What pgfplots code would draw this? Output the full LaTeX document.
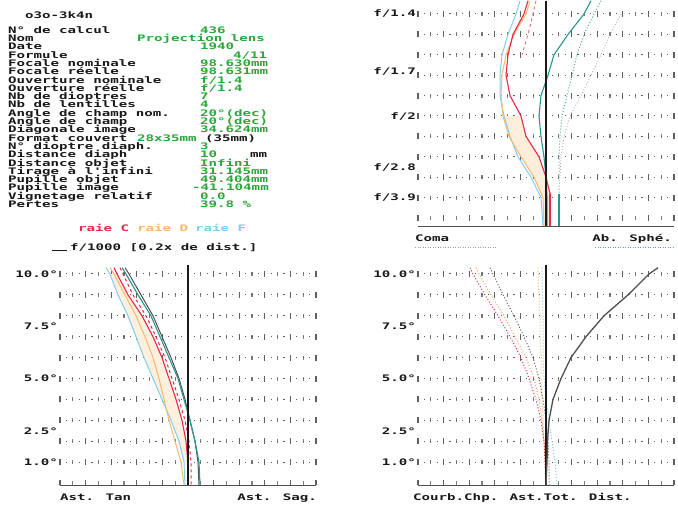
\documentclass[border=0pt]{standalone}
\usepackage{fontspec}
\usepackage{pgfplots}
\pgfplotsset{compat=1.18}
\newfontfamily\pix[FakeStretch=1.57]{DejaVu Sans Mono}
\newcommand\pixf{\pix\bfseries\fontsize{9}{9}\selectfont}
\definecolor{tblack}{RGB}{25,25,25}
\definecolor{gval}{RGB}{45,165,60}
\definecolor{cC}{RGB}{232,40,70}
\definecolor{cD}{RGB}{248,185,110}
\definecolor{cF}{RGB}{130,205,235}
\definecolor{cT}{RGB}{40,150,140}
\definecolor{cG}{RGB}{80,80,80}
\definecolor{gridc}{RGB}{95,95,95}

\pgfplotsset{
 panel/.style={anchor=origin, scale only axis, width=256pt, xmin=-128, xmax=128,
  axis line style={draw=none}, major tick length=0pt, minor tick length=0pt,
  xtick={-128,-102.4,-76.8,-51.2,-25.6,0,25.6,51.2,76.8,102.4,128},
  minor xtick={-115.2,-89.6,-64,-38.4,-12.8,12.8,38.4,64,89.6,115.2},
  xticklabels={}, yticklabels={}, grid=both, clip=false,
  yticklabel style={font=\pixf, text=tblack, anchor=east, inner sep=0pt, xshift=-2pt},
  major y grid style={draw=gridc, line width=1pt, dash pattern=on 1.2pt off 5.2pt, dash phase=0.6pt},
  extra y tick style={grid=none},
 },
 bplot/.style={panel, height=223.63pt, ymin=-0.1, ymax=10.6, ytick={1,2,3,4,5,6,7,8,9,10},
  major x grid style={draw=gridc, line width=1.3pt, dash pattern=on 6pt off 14.9pt, dash phase=0.91pt},
  minor x grid style={draw=gridc!80, line width=1.1pt, dash pattern=on 4pt off 16.9pt, dash phase=20.81pt},
  extra y ticks={1,2.5,5,7.5,10}, extra y tick labels={1.0°,2.5°,5.0°,7.5°,10.0°}},
 tplot/.style={panel, height=225.42pt, ymin=-0.04, ymax=1.065, ytick={0.1,0.2,0.3,0.4,0.5,0.6,0.7,0.8,0.9,1.0},
  major x grid style={draw=gridc, line width=1.3pt, dash pattern=on 6pt off 14.4pt, dash phase=15.24pt},
  minor x grid style={draw=gridc!80, line width=1.1pt, dash pattern=on 4pt off 16.4pt, dash phase=14.24pt},
  extra y ticks={1.0,0.72,0.5,0.25,0.1}, extra y tick labels={f/1.4,f/1.7,f/2,f/2.8,f/3.9}},
}
\tikzset{tx/.style={anchor=base west, inner sep=0pt, font=\pixf, text=tblack}}
\newcommand{\rowtxt}[4]{%
 \node[tx] at (8,{470.7-8.3*#1}) {#2};
 \node[tx,text=gval] at (#3,{470.7-8.3*#1}) {#4};}

\begin{document}
\begin{tikzpicture}[x=1pt,y=1pt]
\useasboundingbox (0,0) rectangle (678,504);
\fill[white] (0,0) rectangle (678,504);

% ---------- top-right : coma / spherical aberration ----------
\begin{axis}[tplot, at={(546pt,286pt)}]
\addplot[fill=cD!25, draw=none] coordinates {(-43,0.5)(-37,0.4)(-25,0.3)(-12,0.2)(-3,0.1)(-2,-0.04)(4,-0.04)(4,0.12)(0,0.2)(-7,0.3)(-20,0.4)(-25,0.5)} -- cycle;
\addplot[cF, line width=1pt] coordinates {(-26,1.065)(-30,1.0)(-38,0.9)(-44,0.8)(-46,0.7)(-46,0.6)(-42,0.5)(-36,0.4)(-28,0.3)(-15,0.2)(-5,0.1)(-3,-0.04)};
\addplot[cD, line width=1pt] coordinates {(-16,1.065)(-20,1.0)(-32,0.9)(-40,0.8)(-44,0.7)(-45,0.6)(-43,0.5)(-37,0.4)(-25,0.3)(-12,0.2)(-3,0.1)(-2,-0.04)};
\addplot[cC, line width=1.1pt] coordinates {(-18,1.065)(-22,1.0)(-33,0.9)(-38,0.8)(-40,0.7)(-36,0.6)(-25,0.5)(-20,0.4)(-7,0.3)(0,0.2)(4,0.12)(4,-0.04)};
\addplot[cC, line width=2.5pt] coordinates {(4,0.12)(4,-0.04)};
\addplot[cC!70, line width=0.9pt, dashed] coordinates {(-10,1.065)(-13,1.0)(-18,0.9)(-24,0.8)};
\addplot[gridc!50, line width=0.9pt, dotted] coordinates {(75,1.0)(64,0.9)(55,0.8)(45,0.7)(35,0.6)(24,0.5)(18,0.4)(15,0.3)(14,0.2)};
\addplot[cT!80, line width=1pt, dotted] coordinates {(55,1.065)(48,1.0)(38,0.9)(31,0.8)(26,0.7)(21,0.6)(16,0.5)(14,0.4)(13,0.3)(13,0.2)(13,0.1)(13,-0.04)};
\addplot[cT, line width=2.5pt] coordinates {(13,0.12)(13,-0.04)};
\addplot[cT, line width=1.1pt] coordinates {(45,1.065)(38,1.0)(22,0.9)(8,0.8)(2,0.7)(-5,0.6)(-7,0.5)(-5,0.4)(-2,0.3)(0,0.2)(1,0.1)(1,-0.04)};
\addplot[tblack, line width=1.2pt] coordinates {(0,-0.04)(0,1.065)};
\addplot[cG, line width=1pt] coordinates {(-128,-0.04)(128,-0.04)};
\end{axis}

% ---------- bottom-left : astigmatism ----------
\begin{axis}[bplot, at={(188pt,21pt)}]
\addplot[fill=cD!22, draw=none] coordinates {(-78,10)(-70,9)(-60,8)(-52,7)(-44,6)(-35,5)(-26,4)(-17,3)(-9,2)(-4,1)(0,1)(-2,2)(-6,3)(-12,4)(-19,5)(-26,6)(-35,7)(-46,8)(-60,9)(-71,10)} -- cycle;
\addplot[cF, line width=1pt] coordinates {(-82,10.3)(-78,10)(-70,9)(-60,8)(-52,7)(-44,6)(-35,5)(-26,4)(-17,3)(-9,2)(-4,1)(-3,-0.1)};
\addplot[cD, line width=1pt] coordinates {(-78,10.3)(-74,10)(-63,9)(-52,8)(-43,7)(-35,6)(-29,5)(-24,4)(-19,3)(-13,2)(-7,1)(-4,-0.1)};
\addplot[cG, line width=1pt] coordinates {(-63,10.3)(-59,10)(-47,9)(-35,8)(-26,7)(-17,6)(-9,5)(-3,4)(2,3)(7,2)(10,1)(11,-0.1)};
\addplot[cT, line width=1.1pt] coordinates {(-66,10.3)(-62,10)(-50,9)(-37,8)(-28,7)(-19,6)(-10,5)(-4,4)(2,3)(7,2)(11,1)(12,-0.1)};
\addplot[cC, line width=1pt, dashed] coordinates {(-68,10.3)(-65,10)(-55,9)(-42,8)(-32,7)(-23,6)(-16,5)(-9,4)(-3,3)(1,2)(3,1)(3,-0.1)};
\addplot[cC, line width=1.1pt] coordinates {(-74,10.3)(-71,10)(-60,9)(-46,8)(-35,7)(-26,6)(-19,5)(-12,4)(-6,3)(-2,2)(0,1)(0,-0.1)};
\addplot[tblack, line width=1.2pt] coordinates {(0,-0.1)(0,10.45)};
\addplot[cG, line width=1pt] coordinates {(-128,-0.1)(128,-0.1)};
\end{axis}

% ---------- bottom-right : field curvature / distortion ----------
\begin{axis}[bplot, at={(546pt,21pt)}]
\addplot[cD, line width=1pt, dotted] coordinates {(-8,10.3)(-8,10)(-7,9)(-6,8)(-6,7)(-5,6)(-5,5)(-4,4)(-3,3)(-2,2)(-1,1)(0,-0.1)};
\addplot[cF, line width=1pt, dotted] coordinates {(-4,10.3)(-4,10)(-3,8)(-3,6)(-2,5)(0,4)(3,3)(6,2)(9,1)(11,-0.1)};
\addplot[cC, line width=1pt, dotted] coordinates {(-76,10.3)(-73,10)(-61,9)(-48,8)(-36,7)(-25,6)(-17,5)(-10,4)(-5,3)(-2,2)(-1,1)(0,-0.1)};
\addplot[cD!90!black, line width=1pt, dotted] coordinates {(-70,10.3)(-67,10)(-55,9)(-42,8)(-31,7)(-20,6)(-12,5)(-7,4)(-4,3)(-2,2)(0,1)(0,-0.1)};
\addplot[gridc, line width=1pt, dotted] coordinates {(-56,10.3)(-53,10)(-43,9)(-32,8)(-22,7)(-13,6)(-7,5)(-3,4)(0,3)(2,2)(3,1)(3,-0.1)};
\addplot[tblack, line width=1.2pt] coordinates {(0,-0.1)(0,10.45)};
\addplot[cG, line width=1.3pt] coordinates {(0,-0.1)(1,1)(1.5,2)(3,3)(7,4)(15,5)(25,6)(40,7)(58,8)(82,9)(103,10)(112,10.3)};
\addplot[cG, line width=1pt] coordinates {(-128,-0.1)(128,-0.1)};
\end{axis}

% ---------- text block ----------
\node[tx] at (25,485.7) {o3o-3k4n};
\rowtxt{0}{N° de calcul}{200}{436}
\rowtxt{1}{Nom}{137}{Projection lens}
\rowtxt{2}{Date}{200}{1940}
\rowtxt{3}{Formule}{233}{4/11}
\rowtxt{4}{Focale nominale}{200}{98.630mm}
\rowtxt{5}{Focale réelle}{200}{98.631mm}
\rowtxt{6}{Ouverture nominale}{200}{f/1.4}
\rowtxt{7}{Ouverture réelle}{200}{f/1.4}
\rowtxt{8}{Nb de dioptres}{200}{7}
\rowtxt{9}{Nb de lentilles}{200}{4}
\rowtxt{10}{Angle de champ nom.}{200}{20°(dec)}
\rowtxt{11}{Angle de champ}{200}{20°(dec)}
\rowtxt{12}{Diagonale image}{200}{34.624mm}
\rowtxt{13}{Format couvert}{137}{28x35mm}
\node[tx] at (205,{470.7-8.3*13}) {(35mm)};
\rowtxt{14}{N° dioptre diaph.}{200}{3}
\rowtxt{15}{Distance diaph}{200}{10}
\node[tx] at (250,{470.7-8.3*15}) {mm};
\rowtxt{16}{Distance objet}{200}{Infini}
\rowtxt{17}{Tirage à l'infini}{200}{31.145mm}
\rowtxt{18}{Pupille objet}{200}{49.404mm}
\rowtxt{19}{Pupille image}{192}{-41.104mm}
\rowtxt{20}{Vignetage relatif}{200}{0.0}
\rowtxt{21}{Pertes}{200}{39.8 \%}

\node[tx,text=cC] at (78,272.7) {raie C};
\node[tx,text=cD] at (137,272.7) {raie D};
\node[tx,text=cF] at (195,272.7) {raie F};
\draw[tblack, line width=1pt] (52,253.2) -- (67,253.2);
\node[tx] at (70,253.7) {f/1000 [0.2x de dist.]};

\node[tx] at (415,262.7) {Coma};
\node[tx,anchor=base east] at (672,262.7) {Ab. Sphé.};
\draw[gridc!60, line width=1pt, dash pattern=on 1pt off 1.5pt] (415,256) -- (497,256);
\draw[cT!80, line width=1pt, dash pattern=on 1pt off 1.5pt] (595,256) -- (673,256);

\node[tx] at (60,3.7) {Ast. Tan};
\node[tx,anchor=base east] at (317,3.7) {Ast. Sag.};
\node[tx] at (413,3.7) {Courb.Chp. Ast.Tot.  Dist.};
\end{tikzpicture}
\end{document}
